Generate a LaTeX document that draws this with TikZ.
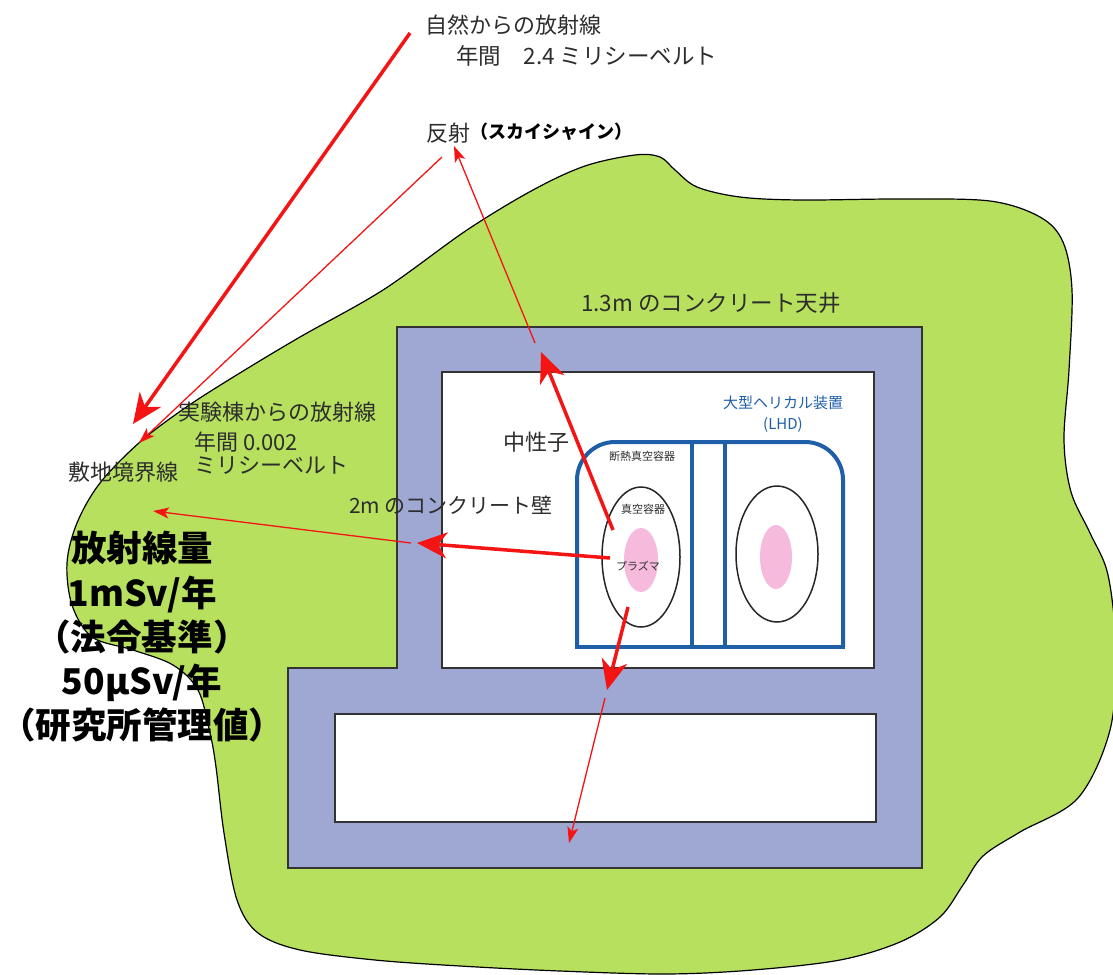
\documentclass[tikz,border=0pt]{standalone}
\usepackage{fontspec}
\setmainfont{Noto Sans CJK JP}
\usetikzlibrary{arrows.meta}

\definecolor{site}{RGB}{182,224,94}
\definecolor{wall}{RGB}{158,168,210}
\definecolor{lhd}{RGB}{30,95,168}
\definecolor{plasma}{RGB}{246,186,220}
\definecolor{ray}{RGB}{245,20,20}
\definecolor{label}{RGB}{45,45,45}

\begin{document}
\begin{tikzpicture}[x=1pt,y=-1pt,
  lbl/.style={text=label, inner sep=0pt, anchor=west, font=\fontsize{22}{26}\selectfont},
  small/.style={text=label, inner sep=0pt, font=\fontsize{11}{13}\selectfont},
  lhdlbl/.style={text=lhd, inner sep=0pt, font=\fontsize{15}{18}\selectfont},
  big/.style={text=black, inner sep=0pt, align=center, font=\fontsize{35.5}{44.3}\selectfont\bfseries},
  thickray/.style={draw=ray, line width=3.5pt, -{Stealth[length=30pt,width=26pt,inset=9pt]}},
  thinray/.style={draw=ray, line width=1.3pt, -{Stealth[length=16pt,width=11pt,inset=4pt]}},
  wallline/.style={draw=black!80, line width=1.5pt},
  lhdline/.style={draw=lhd, line width=4pt}
]
\useasboundingbox (0,0) rectangle (1113,974);
\clip (0,0) rectangle (1113,974);

% site area
\draw[fill=site, line width=1.2pt] plot[smooth cycle, tension=0.55] coordinates {
  (67,563) (77,523) (100,483) (140,442) (185,408) (235,376) (300,337)
  (383,290) (467,230) (533,190) (585,166) (635,155) (660,157) (675,170)
  (697,187) (740,197) (800,200) (900,199) (990,201) (1040,217) (1063,242)
  (1072,290) (1069,370) (1064,440) (1071,492) (1090,533) (1108,575)
  (1116,650) (1110,730) (1078,798) (1020,832) (983,856) (963,885)
  (940,917) (900,942) (840,960) (753,970) (666,974) (560,971) (460,966)
  (375,960) (300,950) (258,933) (237,900) (224,833) (216,767) (210,733)
  (198,690) (173,665) (133,650) (92,637) (72,605)};

% concrete building
\path[wallline, fill=wall] (397,327) -- (922,327) -- (922,868) -- (288,868)
  -- (288,668) -- (397,668) -- cycle;
\path[wallline, fill=white] (442,372) rectangle (874,668);
\path[wallline, fill=white] (335,714) rectangle (876,822);

% LHD cryostat
\draw[lhdline, rounded corners=38pt] (577,647) -- (577,442) -- (843,442) -- (843,647);
\draw[lhdline] (575,647) -- (845,647);
\draw[lhdline] (692,442) -- (692,647);
\draw[lhdline] (725,442) -- (725,647);

% vacuum vessels and plasma
\fill[plasma] (641,560) ellipse [x radius=17, y radius=32];
\fill[plasma] (776,557) ellipse [x radius=16, y radius=32];
\draw[line width=1.5pt, black!85] (641,557) ellipse [x radius=39, y radius=70];
\draw[line width=1.5pt, black!85] (777,554) ellipse [x radius=41, y radius=68];

% labels
\node[lbl] (nat1) at (425,25) {自然からの放射線};
\node[lbl, font=\fontsize{22.5}{26}\selectfont] (nat2) at (456,56) {年間\quad 2.4 ミリシーベルト};
\node[lbl] (refl) at (426,133) {反射};
\node[inner sep=0pt, anchor=west, font=\fontsize{18}{21}\selectfont\bfseries] (sky) at (470,132) {（スカイシャイン）};
\node[lbl, font=\fontsize{22.5}{26}\selectfont] (ceil) at (581,303) {1.3m のコンクリート天井};
\node[lbl] (neut) at (503,442) {中性子};
\node[lbl, font=\fontsize{21}{25}\selectfont] (wallt) at (349,505) {2m のコンクリート壁};
\node[lbl] (bld1) at (178,412) {実験棟からの放射線};
\node[lbl] (bld2) at (194,442) {年間 0.002};
\node[lbl] (bld3) at (194,465) {ミリシーベルト};
\node[lbl] (bound) at (68,472) {敷地境界線};
\node[lhdlbl] (lhd1) at (783,403) {大型ヘリカル装置};
\node[lhdlbl] (lhd2) at (783,425) {(LHD)};
\node[small] (cryo) at (642,456) {断熱真空容器};
\node[small] (vv) at (643,509) {真空容器};
\node[small] (pl) at (638,566) {プラズマ};
\node[big] (dose) at (142,637) {放射線量\\1mSv/年\\（法令基準）\\50μSv/年\\（研究所管理値）};

% radiation paths
\coordinate (natA) at (410,33);   \coordinate (natB) at (133,424);
\coordinate (skyA) at (442,157);  \coordinate (skyB) at (139,443);
\coordinate (upA) at (535,343);   \coordinate (upB) at (454,146);
\coordinate (nA) at (613,530);    \coordinate (nB) at (541,352);
\coordinate (lA) at (610,558);    \coordinate (lB) at (417,543);
\coordinate (wA) at (411,543);    \coordinate (wB) at (153,511);
\coordinate (dA) at (628,607);    \coordinate (dB) at (607,690);
\coordinate (fA) at (605,698);    \coordinate (fB) at (569,843);

\draw[thickray] (natA) -- (natB);
\draw[thinray] (skyA) -- (skyB);
\draw[thinray] (upA) -- (upB);
\draw[thickray] (nA) -- (nB);
\draw[thickray] (lA) -- (lB);
\draw[thinray] (wA) -- (wB);
\draw[thickray] (dA) -- (dB);
\draw[thinray] (fA) -- (fB);
\end{tikzpicture}
\end{document}
